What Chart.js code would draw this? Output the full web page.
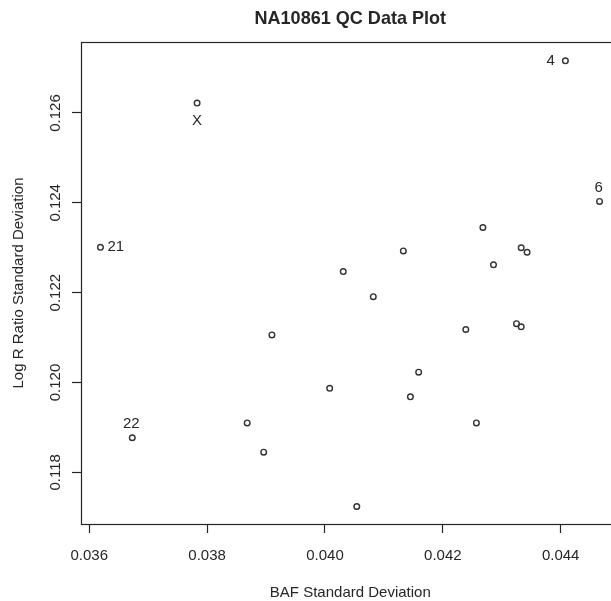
<!DOCTYPE html>
<html lang="en">
<head>
  <meta charset="UTF-8">
  <title>NA10861 QC Data Plot</title>
  <style>
    html, body { margin: 0; padding: 0; overflow: hidden; background: #fff; }
    /* the plot box runs a little past the right edge of the window, as in the picture */
    .wrap { width: 625px; height: 601px; position: relative; }
  </style>
</head>
<body>
  <div class="wrap">
    <canvas id="qcPlot"></canvas>
  </div>

  <script src="https://cdn.jsdelivr.net/npm/chart.js@4"></script>
  <script>
    // BAF SD (x) and Log R Ratio SD (y), one point per chromosome
    const bafSD = [0.03783, 0.04408, 0.04466, 0.03619, 0.03673,
                   0.04133, 0.04031, 0.04082, 0.03910, 0.04239, 0.04159, 0.04008,
                   0.04145, 0.03868, 0.04257, 0.03896, 0.04054, 0.04268, 0.04333,
                   0.04343, 0.04286, 0.04325, 0.04333];
    const lrrSD = [0.12622, 0.12716, 0.12403, 0.12301, 0.11877,
                   0.12293, 0.12247, 0.12191, 0.12106, 0.12118, 0.12023, 0.11987,
                   0.11968, 0.11910, 0.11910, 0.11845, 0.11724, 0.12345, 0.12300,
                   0.12290, 0.12262, 0.12131, 0.12124];
    const chromLabels = ['X', '4', '6', '21', '22'];
    const labelSide   = ['below', 'left', 'above', 'right', 'above'];

    const xTicks = [0.036, 0.038, 0.040, 0.042, 0.044];
    const yTicks = [0.118, 0.120, 0.122, 0.124, 0.126];
    const xRange = [0.03586, 0.045];
    const yRange = [0.11685, 0.12758];

    const FONT = '"Liberation Sans", Arial, sans-serif';
    const INK = '#262626';

    const points = bafSD.map((x, i) => ({ x: x, y: lrrSD[i] }));

    // R-style decorations: box, title, axis titles, tick labels, point labels
    const rDecor = {
      id: 'rDecor',
      afterDraw(chart) {
        const ctx = chart.ctx, a = chart.chartArea;
        const xs = chart.scales.x, ys = chart.scales.y;
        ctx.save();
        ctx.strokeStyle = INK;
        ctx.lineWidth = 1.2;
        ctx.strokeRect(a.left + 0.5, a.top + 0.5, a.right - a.left, a.bottom - a.top);

        ctx.fillStyle = INK;
        ctx.textAlign = 'center';
        ctx.textBaseline = 'middle';
        const midX = (a.left + a.right) / 2;
        const midY = (a.top + a.bottom) / 2;

        ctx.save();
        ctx.translate(midX, 19);
        ctx.scale(0.95, 1);
        ctx.font = 'bold 19px ' + FONT;
        ctx.fillText('NA10861 QC Data Plot', 0, 0);
        ctx.restore();

        ctx.font = '15px ' + FONT;
        ctx.fillText('BAF Standard Deviation', midX, 593);
        xTicks.forEach(v => ctx.fillText(v.toFixed(3), xs.getPixelForValue(v), 556));

        yTicks.forEach(v => {
          ctx.save();
          ctx.translate(56, ys.getPixelForValue(v));
          ctx.rotate(-Math.PI / 2);
          ctx.fillText(v.toFixed(3), 0, 0);
          ctx.restore();
        });
        ctx.save();
        ctx.translate(19, midY);
        ctx.rotate(-Math.PI / 2);
        ctx.fillText('Log R Ratio Standard Deviation', 0, 0);
        ctx.restore();

        const meta = chart.getDatasetMeta(0);
        chromLabels.forEach((txt, i) => {
          const p = meta.data[i];
          const side = labelSide[i];
          if (side === 'left') { ctx.textAlign = 'right'; ctx.fillText(txt, p.x - 10.5, p.y); }
          else if (side === 'right') { ctx.textAlign = 'left'; ctx.fillText(txt, p.x + 7, p.y); }
          else if (side === 'above') { ctx.textAlign = 'center'; ctx.fillText(txt, p.x - 1, p.y - 14); }
          else { ctx.textAlign = 'center'; ctx.fillText(txt, p.x, p.y + 17.5); }
        });
        ctx.restore();
      }
    };

    new Chart(document.getElementById('qcPlot'), {
      type: 'scatter',
      data: {
        datasets: [{
          data: points,
          pointRadius: 2.8,
          borderWidth: 1.4,
          borderColor: '#333333',
          backgroundColor: 'rgba(0,0,0,0)'
        }]
      },
      options: {
        responsive: true,
        maintainAspectRatio: false,
        animation: false,
        events: [],
        layout: { padding: { top: 42, left: 0, right: 3, bottom: 0 } },
        plugins: { legend: { display: false }, tooltip: { enabled: false }, title: { display: false } },
        scales: {
          x: {
            type: 'linear',
            min: xRange[0], max: xRange[1],
            afterBuildTicks: s => { s.ticks = xTicks.map(v => ({ value: v })); },
            afterFit: s => { s.height = 77; },
            ticks: { display: false },
            border: { display: false },
            grid: { drawOnChartArea: false, drawTicks: true, tickLength: 9, tickColor: INK, tickWidth: 1.2 }
          },
          y: {
            type: 'linear',
            min: yRange[0], max: yRange[1],
            afterBuildTicks: s => { s.ticks = yTicks.map(v => ({ value: v })); },
            afterFit: s => { s.width = 81; },
            ticks: { display: false },
            border: { display: false },
            grid: { drawOnChartArea: false, drawTicks: true, tickLength: 9, tickColor: INK, tickWidth: 1.2 }
          }
        }
      },
      plugins: [rDecor]
    });
  </script>
</body>
</html>
